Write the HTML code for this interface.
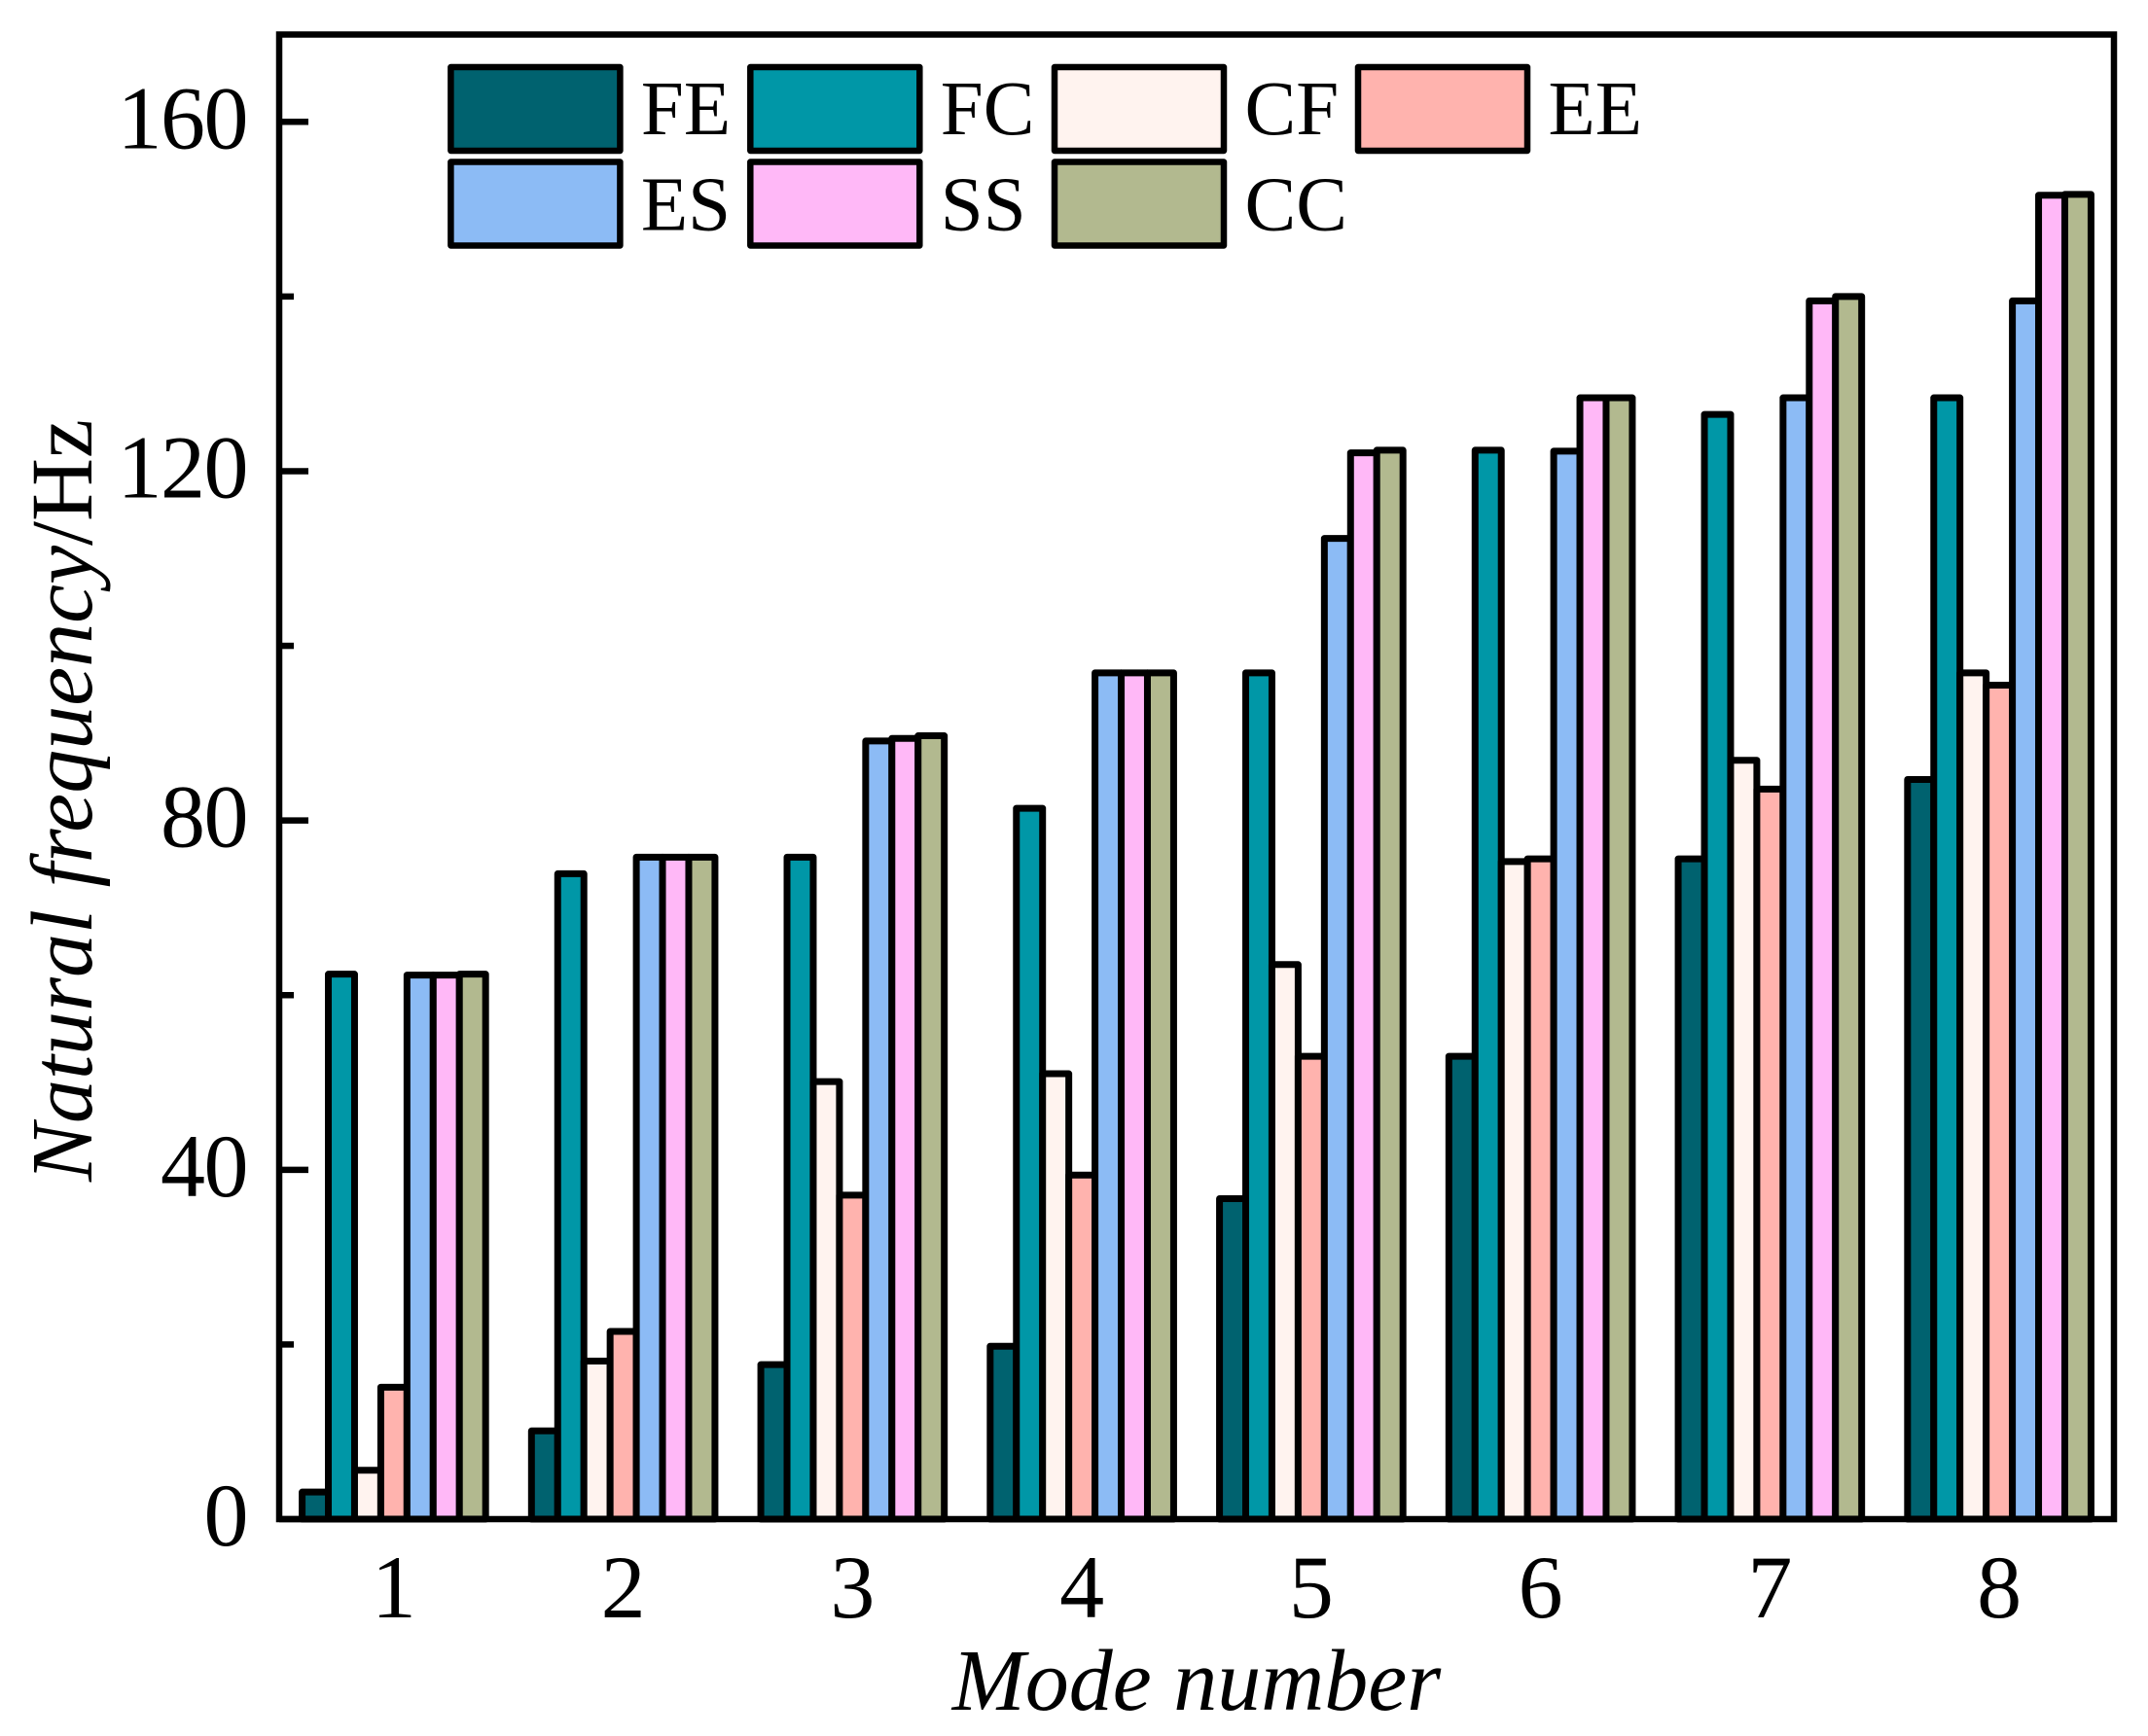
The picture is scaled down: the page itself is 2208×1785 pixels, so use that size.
<!DOCTYPE html>
<html lang="en">
<head>
<meta charset="utf-8">
<title>Natural frequency by mode number</title>
<style>
  html, body { margin: 0; padding: 0; background: #fff; }
  svg { display: block; }
  text { font-family: "Liberation Serif", serif; fill: #000; }
</style>
</head>
<body>
<svg id="chart" xmlns="http://www.w3.org/2000/svg" width="2208" height="1785" viewBox="0 0 2208 1785"></svg>
<script>
const categories = [1, 2, 3, 4, 5, 6, 7, 8];
const seriesNames = ["FE", "FC", "CF", "EE", "ES", "SS", "CC"];
const seriesColors = ["#00626f", "#0097a7", "#fff3ef", "#ffb3ae", "#8cbbf5", "#ffb8f7", "#b2b98f"];
const feValues = [3.1, 10.1, 17.7, 19.8, 36.7, 53, 75.6, 84.7];
const fcValues = [62.4, 73.9, 75.8, 81.4, 96.9, 122.4, 126.5, 128.4];
const cfValues = [5.6, 18.1, 50.1, 51, 63.5, 75.3, 86.9, 96.9];
const eeValues = [15.1, 21.5, 37.1, 39.4, 53, 75.6, 83.6, 95.5];
const esValues = [62.3, 75.8, 89.1, 96.9, 112.3, 122.3, 128.4, 139.5];
const ssValues = [62.3, 75.8, 89.4, 96.9, 122.1, 128.4, 139.5, 151.6];
const ccValues = [62.4, 75.8, 89.7, 96.9, 122.4, 128.4, 140, 151.7];
const yMajorTicks = [0, 40, 80, 120, 160];
const yMinorTicks = [20, 60, 100, 140];

const allSeries = [feValues, fcValues, cfValues, eeValues, esValues, ssValues, ccValues];
const plotLeft = 287, plotRight = 2173, plotTop = 35.5, plotBottom = 1562;
const xMin = 0.5, xMax = 8.5, yMin = 0, yMax = 170;
const barFraction = 0.8;
const NS = "http://www.w3.org/2000/svg";
const svg = document.getElementById("chart");

function xScale(v) { return plotLeft + (v - xMin) / (xMax - xMin) * (plotRight - plotLeft); }
function yScale(v) { return plotBottom - (v - yMin) / (yMax - yMin) * (plotBottom - plotTop); }
function make(tag, attrs) {
  const el = document.createElementNS(NS, tag);
  for (const k in attrs) el.setAttribute(k, attrs[k]);
  return el;
}
function legendColumnLeft(col) {
  if (col === 0) return 463.4;
  if (col === 1) return 771.3;
  if (col === 2) return 1084;
  return 1396;
}

const bg = make("rect", { x: 0, y: 0, width: 2208, height: 1785, fill: "#ffffff" });


svg.appendChild(bg);

/* bars */
const barWidth = (xScale(2) - xScale(1)) * barFraction / seriesNames.length;
allSeries.forEach(function (values, s) {
  const group = make("g", { fill: seriesColors[s], stroke: "#000", "stroke-width": 7, "stroke-linejoin": "round" });
  
  
  values.forEach(function (v, i) {
    const left = xScale(categories[i]) - barWidth * seriesNames.length / 2 + s * barWidth;
    const bar = make("rect", { x: left, y: yScale(v), width: barWidth, height: yScale(0) - yScale(v) });
    
    
    group.appendChild(bar);
  });
  svg.appendChild(group);
});

/* y ticks */
yMajorTicks.forEach(function (v) {
  const tick = make("line", { x1: plotLeft, x2: plotLeft + 30, y1: yScale(v), y2: yScale(v), stroke: "#000", "stroke-width": 6.5 });
  
  
  svg.appendChild(tick);
  const label = make("text", { x: 254, y: yScale(v) + 27, "text-anchor": "end", "font-size": 92, "letter-spacing": "-1.5" });
  
  
  label.textContent = String(v);
  svg.appendChild(label);
});
yMinorTicks.forEach(function (v) {
  const tick = make("line", { x1: plotLeft, x2: plotLeft + 15, y1: yScale(v), y2: yScale(v), stroke: "#000", "stroke-width": 6.5 });
  
  
  svg.appendChild(tick);
});

/* x labels */
categories.forEach(function (c) {
  const label = make("text", { x: xScale(c), y: 1663, "text-anchor": "middle", "font-size": 92 });
  
  
  label.textContent = String(c);
  svg.appendChild(label);
});

/* frame */
const frame = make("rect", { x: plotLeft, y: plotTop, width: plotRight - plotLeft, height: plotBottom - plotTop, fill: "none", stroke: "#000", "stroke-width": 6.5 });


svg.appendChild(frame);

/* legend */
const legend = make("g", {});


seriesNames.forEach(function (name, s) {
  const col = s % 4, row = Math.floor(s / 4);
  const left = legendColumnLeft(col);
  const entry = make("g", {});
  
  
  const swatch = make("rect", {
    x: left, y: 69 + row * 97.5, width: 174, height: 86,
    fill: seriesColors[s], stroke: "#000", "stroke-width": 6.5, "stroke-linejoin": "round"
  });
  
  
  entry.appendChild(swatch);
  const text = make("text", { x: left + 195.5, y: 138 + row * 98.5, "font-size": 79 });
  
  
  text.textContent = name;
  entry.appendChild(text);
  legend.appendChild(entry);
});
svg.appendChild(legend);

/* axis titles */
const xTitle = make("text", { x: 1230, y: 1758, "text-anchor": "middle", "font-size": 90, "font-style": "italic" });


xTitle.textContent = "Mode number";
svg.appendChild(xTitle);

const yTitle = make("text", { transform: "translate(94 823) rotate(-90)", "text-anchor": "middle", "font-size": 90 });


const yItalic = make("tspan", { "font-style": "italic" });
yItalic.textContent = "Natural frequency";
yTitle.appendChild(yItalic);
const yUnit = make("tspan", {});
yUnit.textContent = "/Hz";
yTitle.appendChild(yUnit);
svg.appendChild(yTitle);
</script>
</body>
</html>
